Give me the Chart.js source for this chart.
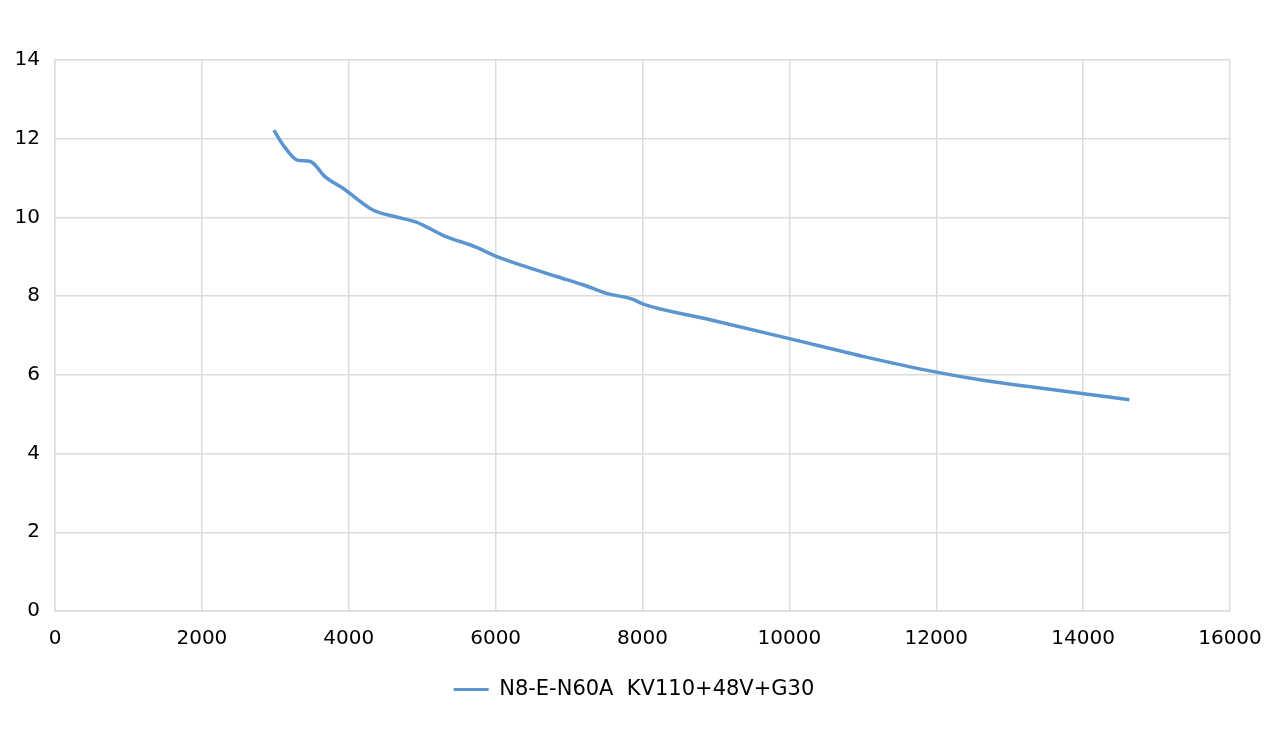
<!DOCTYPE html>
<html>
<head>
<meta charset="utf-8">
<script src="https://cdn.jsdelivr.net/npm/chart.js@4/dist/chart.umd.min.js"></script>
<style>
html,body{margin:0;padding:0;background:#fff;}
#wrap{width:1280px;height:729px;position:relative;}
</style>
</head>
<body>
<div id="wrap"><canvas id="c" width="1280" height="729"></canvas></div>
<script>
const seriesName = 'N8-E-N60A  KV110+48V+G30';
const speedX = [2980, 3110, 3310, 3470, 3680, 3930, 4330, 4650, 4920, 5290, 5740, 6010, 6380, 6830, 7190, 7510, 7850, 8020, 8850, 10000, 11000, 12000, 12680, 13390, 14010, 14630];
const valueY = [12.22, 11.83, 11.45, 11.43, 11.03, 10.73, 10.19, 10.01, 9.88, 9.54, 9.24, 9.01, 8.77, 8.50, 8.29, 8.07, 7.93, 7.79, 7.43, 6.92, 6.47, 6.07, 5.85, 5.67, 5.52, 5.37];
const xTicks = [0, 2000, 4000, 6000, 8000, 10000, 12000, 14000, 16000];
const yTicks = [0, 2, 4, 6, 8, 10, 12, 14];

const lineColor = '#5b95d0';
const gridColor = '#dcdcdc';
const textColor = '#000';
const fontFamily = '"DejaVu Sans", "Noto Sans", sans-serif';

const points = speedX.map((x, i) => ({x: x, y: valueY[i]}));

const legendShift = {
  id: 'legendShift',
  afterLayout(chart) {
    if (chart.legend) { chart.legend.left += 19; chart.legend.right += 19; }
  }
};

new Chart(document.getElementById('c'), {
  type: 'line',
  data: {
    datasets: [{
      label: seriesName,
      data: points,
      borderColor: lineColor,
      backgroundColor: lineColor,
      borderWidth: 3.5,
      pointRadius: 0,
      cubicInterpolationMode: 'monotone',
      fill: false
    }]
  },
  plugins: [legendShift],
  options: {
    responsive: false,
    animation: false,
    devicePixelRatio: 1,
    layout: { padding: { top: 60, right: 50, left: 0, bottom: 19 } },
    plugins: {
      tooltip: { enabled: false },
      legend: {
        position: 'bottom',
        labels: {
          font: { family: fontFamily, size: 21 },
          color: textColor,
          boxWidth: 35,
          boxHeight: 3,
          padding: 10,
          generateLabels: (chart) => [{
            text: seriesName,
            fillStyle: lineColor,
            strokeStyle: lineColor,
            lineWidth: 0,
            datasetIndex: 0
          }]
        }
      }
    },
    scales: {
      x: {
        type: 'linear',
        min: 0, max: 16000,
        afterBuildTicks: (s) => { s.ticks = xTicks.map(v => ({value: v})); },
        afterFit: (s) => { s.height = 58; },
        grid: { color: gridColor, lineWidth: 1.5, drawTicks: false },
        border: { color: gridColor, width: 1.5 },
        ticks: { font: { family: fontFamily, size: 20 }, color: textColor, padding: 16, maxRotation: 0, autoSkip: false,
                 callback: (v) => String(v) }
      },
      y: {
        type: 'linear',
        min: 0, max: 14,
        afterBuildTicks: (s) => { s.ticks = yTicks.map(v => ({value: v})); },
        afterFit: (s) => { s.width = 55; },
        grid: { color: gridColor, lineWidth: 1.5, drawTicks: false },
        border: { color: gridColor, width: 1.5 },
        ticks: { font: { family: fontFamily, size: 20 }, color: textColor, padding: 15,
                 callback: (v) => String(v) }
      }
    }
  }
});
</script>
</body>
</html>
